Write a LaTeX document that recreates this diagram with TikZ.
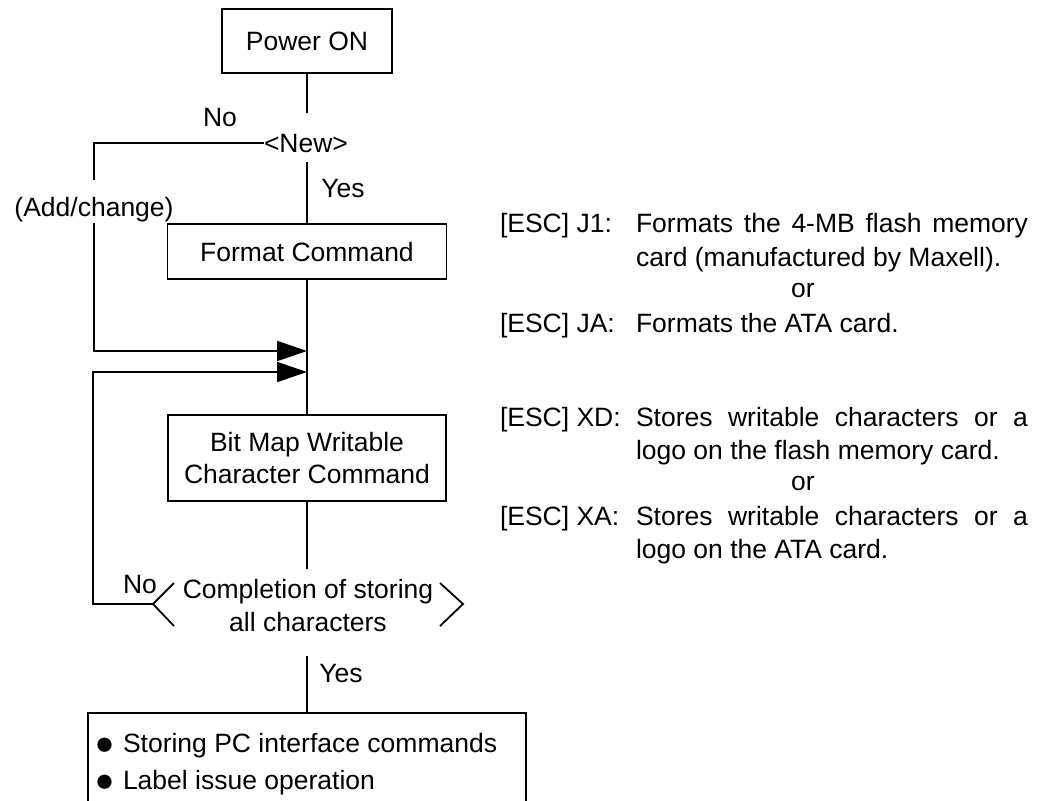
\documentclass[tikz,border=0pt]{standalone}
\usepackage{fontspec}
\setmainfont{Liberation Sans}
\usetikzlibrary{arrows.meta}
\begin{document}
\begin{tikzpicture}[x=1pt,y=-1pt,
  line width=1.8pt,
  every node/.style={inner sep=0pt, outer sep=0pt, font=\fontsize{26.5}{32}\selectfont},
  box/.style={draw, line width=1.8pt, align=center},
  lbl/.style={text height=19pt, text depth=0pt},
  rt/.style={lbl, anchor=west},
  bul/.style={anchor=base, font=\fontsize{33}{33}\selectfont},
  arr/.style={-{Triangle[length=30pt,width=20pt]}},
]
\useasboundingbox (0,0) rectangle (1045,801);

% flowchart nodes
\node[box, lbl, minimum width=170pt, minimum height=64pt] (pwr) at (307,41) {Power ON};
\node[lbl] (new) at (306,143) {<New>};
\node[lbl] (no1) at (220,117) {No};
\node[lbl] (yes1) at (343,188) {Yes};
\node[lbl] (addch) at (94,207) {(Add/change)};
\node[box, lbl, minimum width=279pt, minimum height=55pt] (fmt) at (307,251.5) {Format Command};
\node[box, minimum width=278pt, minimum height=86pt] (bmp) at (307,458) {Bit Map Writable\\Character Command};
\node[align=center, font=\fontsize{26.5}{33}\selectfont] (dec) at (308,606) {Completion of storing\\all characters};
\node[lbl] (no2) at (140,584) {No};
\node[lbl] (yes2) at (341,673) {Yes};

% coordinates
\coordinate (newtop) at (307,113);
\coordinate (newbot) at (307,162);
\coordinate (addtop) at (94,180);
\coordinate (addbot) at (94,223);
\coordinate (j1) at (307,351);
\coordinate (j2) at (307,372);
\coordinate (dectop) at (307,569);
\coordinate (decbot) at (307,656);
\coordinate (dl) at (153,604);
\coordinate (dr) at (463,604);
\coordinate (dlt) at (174,583);
\coordinate (dlb) at (174,626);
\coordinate (drt) at (440,583);
\coordinate (drb) at (440,626);
\coordinate (nol) at (93,604);
\coordinate (btop) at (307,713);
\coordinate (bbl) at (88,801);
\coordinate (btl) at (88,713);
\coordinate (btr) at (526,713);
\coordinate (bbr) at (526,801);

% decision brackets
\draw (dlt) -- (dl) -- (dlb);
\draw (drt) -- (dr) -- (drb);

% final box (open at bottom)
\draw (bbl) -- (btl) -- (btr) -- (bbr);
\node[bul] (bul1) at (104.5,754) {●};
\node[bul] (bul2) at (104.5,791) {●};
\node[rt] (t1) at (123,743) {Storing PC interface commands};
\node[rt] (t2) at (123,780) {Label issue operation};

% connectors
\draw (pwr.south) -- (newtop);
\draw (newbot) -- (fmt.north);
\draw (new.west) -| (addtop);
\draw[arr] (addbot) |- (j1);
\draw (fmt.south) -- (bmp.north);
\draw (bmp.south) -- (dectop);
\draw (decbot) -- (btop);
\draw[arr] (dl) -- (nol) |- (j2);

% right-hand notes
\node[rt] (j1l) at (500,223) {[ESC] J1:};
\node[rt] (j1a) at (636,223) {\makebox[392pt][s]{Formats the 4-MB flash memory}};
\node[rt] (j1b) at (636,257) {card (manufactured by Maxell).};
\node[lbl] (or1) at (803,288) {or};
\node[rt] (jal) at (500,323) {[ESC] JA:};
\node[rt] (jaa) at (636,323) {Formats the ATA card.};
\node[rt] (xdl) at (500,417) {[ESC] XD:};
\node[rt] (xda) at (636,417) {\makebox[392pt][s]{Stores writable characters or a}};
\node[rt] (xdb) at (636,450) {logo on the flash memory card.};
\node[lbl] (or2) at (803,481) {or};
\node[rt] (xal) at (500,516) {[ESC] XA:};
\node[rt] (xaa) at (636,516) {\makebox[392pt][s]{Stores writable characters or a}};
\node[rt] (xab) at (636,549) {logo on the ATA card.};
\end{tikzpicture}
\end{document}
